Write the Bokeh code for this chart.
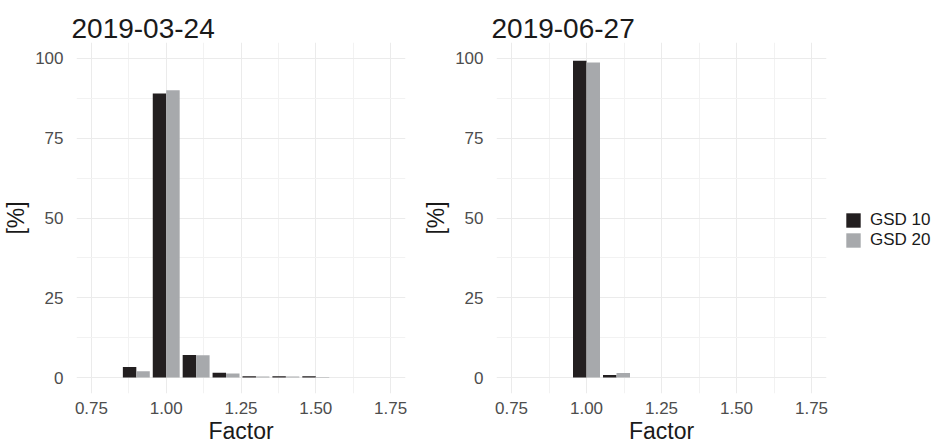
from bokeh.plotting import figure
from bokeh.layouts import row
from bokeh.models import (ColumnDataSource, Range1d, FixedTicker, NumeralTickFormatter,
                          Legend, LegendItem)
from bokeh.transform import dodge
from bokeh.embed import file_html
from bokeh.resources import INLINE

# ---- data ----
factor_left = [0.9, 1.0, 1.1, 1.2, 1.3, 1.4, 1.5]
gsd10_left = [3.3, 89.0, 7.1, 1.5, 0.4, 0.4, 0.4]
gsd20_left = [2.0, 90.0, 7.0, 1.3, 0.3, 0.3, 0.2]

factor_right = [1.0, 1.1]
gsd10_right = [99.3, 0.8]
gsd20_right = [98.7, 1.4]

titles = ["2019-03-24", "2019-06-27"]
series_names = ["GSD 10", "GSD 20"]
x_ticks = [0.75, 1.00, 1.25, 1.50, 1.75]
x_minor = [0.875, 1.125, 1.375, 1.625]
y_ticks = [0, 25, 50, 75, 100]
y_minor = [12.5, 37.5, 62.5, 87.5]

C10 = "#231f20"
C20 = "#a7a9ac"
FONT = "Liberation Sans"
BAR_W = 0.045
H = 446


def make_panel(title, fx, v10, v20, width, border_left, border_right):
    src = ColumnDataSource(dict(f=fx, a=v10, b=v20))
    p = figure(width=width, height=H, output_backend="svg", toolbar_location=None,
               x_range=Range1d(0.70, 1.80), y_range=Range1d(-5, 105),
               min_border_left=border_left, min_border_right=border_right,
               min_border_top=42, min_border_bottom=53, title=title)
    p.title.text_font = FONT
    p.title.text_font_size = "28px"
    p.title.text_font_style = "normal"
    p.title.text_color = "#1a1a1a"
    p.title.offset = -5
    p.outline_line_color = None
    p.background_fill_color = "white"

    r1 = p.vbar(x=dodge("f", -BAR_W / 2), top="a", bottom=0, width=BAR_W, source=src,
                fill_color=C10, line_color=None)
    r2 = p.vbar(x=dodge("f", BAR_W / 2), top="b", bottom=0, width=BAR_W, source=src,
                fill_color=C20, line_color=None)

    p.xaxis.ticker = FixedTicker(ticks=x_ticks, minor_ticks=x_minor)
    p.yaxis.ticker = FixedTicker(ticks=y_ticks, minor_ticks=y_minor)
    p.xaxis.formatter = NumeralTickFormatter(format="0.00")
    for ax in (p.xaxis, p.yaxis):
        ax.axis_line_color = None
        ax.major_tick_line_color = None
        ax.minor_tick_line_color = None
        ax.major_label_text_font = FONT
        ax.major_label_text_font_size = "17px"
        ax.major_label_text_color = "#4d4d4d"
        ax.axis_label_text_font = FONT
        ax.axis_label_text_font_size = "23px"
        ax.axis_label_text_font_style = "normal"
        ax.axis_label_text_color = "#1a1a1a"
    p.xaxis.axis_label = "Factor"
    p.yaxis.axis_label = "[%]"
    p.xaxis.major_label_standoff = 2
    p.xaxis.axis_label_standoff = 1
    p.yaxis.major_label_standoff = 7
    p.yaxis.axis_label_standoff = 3

    for g in (p.xgrid, p.ygrid):
        g.grid_line_color = "#ebebeb"
        g.grid_line_width = 1
        g.minor_grid_line_color = "#f2f2f2"
        g.minor_grid_line_width = 1
    return p


p1 = make_panel(titles[0], factor_left, gsd10_left, gsd20_left, 420, 72, 15)
p2 = make_panel(titles[1], factor_right, gsd10_right, gsd20_right, 416, 73, 10)

# legend panel (zero-height proxy bars only carry the legend swatches)
p3 = figure(width=104, height=H, output_backend="svg", toolbar_location=None,
            x_axis_type=None, y_axis_type=None, x_range=Range1d(0, 1), y_range=Range1d(0, 1),
            min_border_left=0, min_border_right=0, min_border_top=0, min_border_bottom=0)
p3.outline_line_color = None
p3.xgrid.visible = False
p3.ygrid.visible = False
proxy = ColumnDataSource(dict(x=[0.5], t=[0.0]))
g1 = p3.vbar(x="x", top="t", bottom="t", width=0.01, source=proxy, fill_color=C10, line_color=None)
g2 = p3.vbar(x="x", top="t", bottom="t", width=0.01, source=proxy, fill_color=C20, line_color=None)
legend = Legend(items=[LegendItem(label=series_names[0], renderers=[g1]),
                       LegendItem(label=series_names[1], renderers=[g2])],
                location=(8, 143), border_line_color=None, background_fill_color=None,
                glyph_width=18, glyph_height=18, label_height=18, spacing=-2, padding=10,
                label_text_font=FONT, label_text_font_size="17px",
                label_text_color="#1a1a1a", label_standoff=8, margin=0)
p3.add_layout(legend)

layout = row(p1, p2, p3)
open("out.html", "w").write(file_html(layout, INLINE))
